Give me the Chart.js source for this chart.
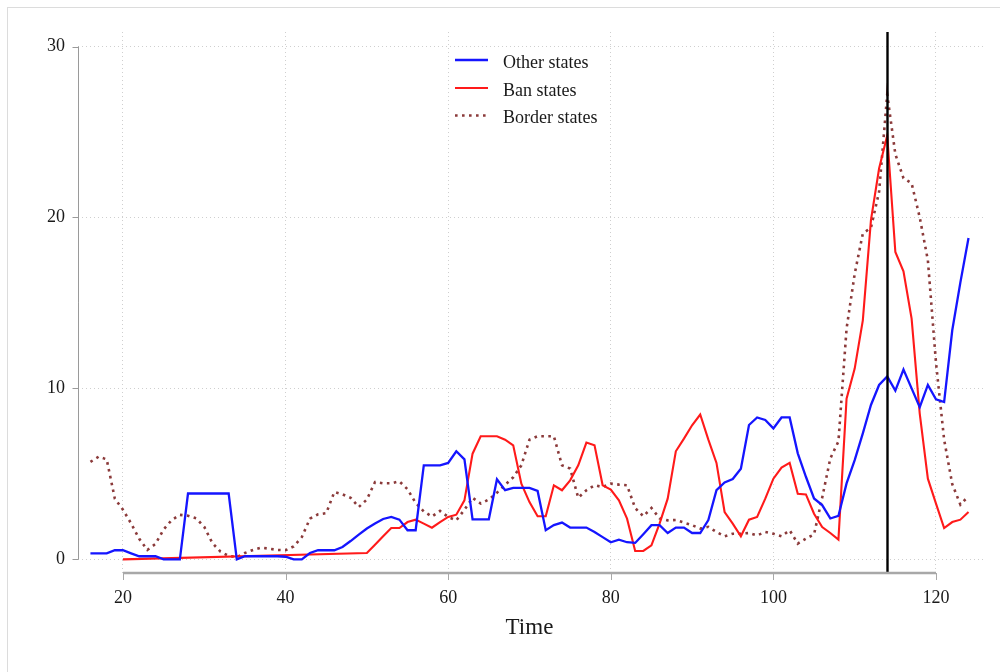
<!DOCTYPE html>
<html>
<head>
<meta charset="utf-8">
<script src="https://cdn.jsdelivr.net/npm/chart.js@4.4.1/dist/chart.umd.min.js"></script>
<style>
  html, body { margin: 0; padding: 0; background: #fff; }
  #wrap { position: relative; width: 1000px; height: 672px; overflow: hidden; }
  #frame { position: absolute; left: 7px; top: 7px; width: 1000px; height: 680px;
           border-top: 1px solid #dcdcdc; border-left: 1px solid #dcdcdc; pointer-events: none; }
  canvas { position: absolute; left: 0; top: 0; }
</style>
</head>
<body>
<div id="wrap">
  <canvas id="c" width="1000" height="672"></canvas>
  <div id="frame"></div>
</div>
<script>
// Time index (16 .. 124)
const FIRST_PERIOD = 16;
const LAST_PERIOD = 124;
const periods = Array.from({ length: LAST_PERIOD - FIRST_PERIOD + 1 }, (_, i) => FIRST_PERIOD + i);

// Other states
const otherStates = [
  0.35, 0.35, 0.35, 0.53, 0.53, 0.35, 0.18, 0.18, 0.18, 0,      // 16-25
  0, 0, 3.85, 3.85, 3.85, 3.85, 3.85, 3.85, 0, 0.18,            // 26-35
  0.18, 0.18, 0.18, 0.18, 0.15, 0, 0, 0.37, 0.53, 0.53,         // 36-45
  0.53, 0.72, 1.07, 1.44, 1.8, 2.09, 2.36, 2.48, 2.32, 1.7,     // 46-55
  1.7, 5.5, 5.5, 5.5, 5.64, 6.32, 5.85, 2.34, 2.34, 2.34,       // 56-65
  4.68, 4.05, 4.18, 4.18, 4.18, 4.0, 1.7, 2.0, 2.15, 1.86,      // 66-75
  1.86, 1.86, 1.6, 1.3, 1.0, 1.15, 1.0, 0.96, 1.47, 2.0,        // 76-85
  2.0, 1.54, 1.86, 1.86, 1.54, 1.54, 2.3, 4.05, 4.5, 4.7,       // 86-95
  5.3, 7.86, 8.3, 8.15, 7.66, 8.3, 8.3, 6.2, 4.83, 3.56,        // 96-105
  3.17, 2.39, 2.54, 4.44, 5.8, 7.37, 9.03, 10.2, 10.7, 9.87,    // 106-115
  11.1, 10.0, 8.9, 10.2, 9.36, 9.2, 13.4, 16.2, 18.8            // 116-124
];

// Ban states (no observations between 20 and 50)
const banStates = [
  null, null, null, null, 0, null, null, null, null, null,      // 16-25
  null, null, null, null, null, null, null, null, null, null,   // 26-35
  null, null, null, null, null, null, null, null, null, null,   // 36-45
  null, null, null, null, 0.37, 0.85, 1.35, 1.83, 1.83, 2.18,   // 46-55
  2.32, 2.09, 1.85, 2.18, 2.48, 2.61, 3.45, 6.18, 7.2, 7.2,     // 56-65
  7.2, 7.0, 6.67, 4.43, 3.35, 2.52, 2.52, 4.33, 4.04, 4.62,     // 66-75
  5.5, 6.83, 6.67, 4.33, 4.08, 3.45, 2.38, 0.49, 0.49, 0.82,    // 76-85
  2.09, 3.55, 6.32, 7.06, 7.84, 8.47, 7.0, 5.64, 2.77, 2.09,    // 86-95
  1.35, 2.32, 2.48, 3.55, 4.72, 5.37, 5.64, 3.84, 3.8, 2.67,    // 96-105
  1.89, 1.54, 1.15, 9.4, 11.16, 13.98, 19.84, 22.86, 24.8, 17.98, // 106-115
  16.85, 14.08, 8.53, 4.72, 3.26, 1.83, 2.18, 2.32, 2.77        // 116-124
];

// Border states
const borderStates = [
  5.7, 6.0, 5.85, 3.55, 2.9, 2.1, 1.2, 0.55, 0.9, 1.75,         // 16-25
  2.3, 2.6, 2.55, 2.4, 1.9, 0.95, 0.45, 0.2, 0.13, 0.37,        // 26-35
  0.55, 0.68, 0.62, 0.55, 0.53, 0.76, 1.3, 2.38, 2.63, 2.7,     // 36-45
  3.94, 3.8, 3.6, 3.06, 3.5, 4.52, 4.45, 4.45, 4.56, 4.1,       // 46-55
  3.3, 2.8, 2.5, 2.83, 2.48, 2.28, 2.9, 3.6, 3.26, 3.5,         // 56-65
  3.9, 4.35, 4.8, 5.5, 7.0, 7.2, 7.2, 7.2, 5.5, 5.31,           // 66-75
  3.6, 4.04, 4.33, 4.23, 4.43, 4.37, 4.33, 3.0, 2.52, 3.0,      // 76-85
  2.4, 2.28, 2.3, 2.15, 2.0, 1.8, 1.9, 1.6, 1.35, 1.5,          // 86-95
  1.5, 1.54, 1.4, 1.6, 1.5, 1.35, 1.7, 0.92, 1.21, 1.46,        // 96-105
  3.6, 5.9, 6.9, 13.5, 16.7, 19.06, 19.4, 21.5, 27.2, 23.7,     // 106-115
  22.3, 22.0, 20.0, 17.5, 11.5, 7.0, 4.4, 3.2, 3.7              // 116-124
];

const xTickValues = [20, 40, 60, 80, 100, 120];
const yTickValues = [0, 10, 20, 30];
const eventPeriod = 114;
const seriesNames = ['Other states', 'Ban states', 'Border states'];
const xTitle = 'Time';

const SERIF = "'Liberation Serif', 'DejaVu Serif', serif";
const toPoints = vals => periods.map((t, i) => ({ x: t, y: vals[i] }));

// Axis lines, tick marks, event marker, legend and axis title
const decorations = {
  id: 'decorations',
  beforeDraw(chart) {
    const ctx = chart.ctx;
    ctx.save();
    ctx.fillStyle = '#ffffff';
    ctx.fillRect(0, 0, chart.width, chart.height);
    ctx.restore();
  },
  afterDatasetsDraw(chart) {
    const { ctx, chartArea, scales } = chart;
    const xs = scales.x;
    const px = Math.round(xs.getPixelForValue(eventPeriod)) + 0.5;
    ctx.save();
    ctx.strokeStyle = '#000000';
    ctx.lineWidth = 2.4;
    ctx.beginPath();
    ctx.moveTo(px, chartArea.top);
    ctx.lineTo(px, chartArea.bottom);
    ctx.stroke();
    ctx.restore();
  },
  afterDraw(chart) {
    const { ctx, chartArea, scales } = chart;
    const xs = scales.x, ys = scales.y;
    ctx.save();

    // x axis: grey line from first to last tick
    const x0 = xs.getPixelForValue(xTickValues[0]);
    const x1 = xs.getPixelForValue(xTickValues[xTickValues.length - 1]);
    const yb = chartArea.bottom;
    ctx.strokeStyle = '#a8a8a8';
    ctx.lineWidth = 2.6;
    ctx.beginPath();
    ctx.moveTo(x0, yb);
    ctx.lineTo(x1, yb);
    ctx.stroke();
    ctx.lineWidth = 1;
    xTickValues.forEach(v => {
      const p = Math.round(xs.getPixelForValue(v)) + 0.5;
      ctx.beginPath();
      ctx.moveTo(p, yb);
      ctx.lineTo(p, yb + 7);
      ctx.stroke();
    });

    // y axis: thin grey line from first to last tick
    const xl = Math.round(chartArea.left) + 0.5;
    ctx.strokeStyle = '#9a9a9a';
    ctx.lineWidth = 1;
    ctx.beginPath();
    ctx.moveTo(xl, ys.getPixelForValue(yTickValues[0]));
    ctx.lineTo(xl, ys.getPixelForValue(yTickValues[yTickValues.length - 1]));
    ctx.stroke();
    yTickValues.forEach(v => {
      const p = Math.round(ys.getPixelForValue(v)) + 0.5;
      ctx.beginPath();
      ctx.moveTo(xl - 6, p);
      ctx.lineTo(xl, p);
      ctx.stroke();
    });

    // axis title
    ctx.fillStyle = '#1a1a1a';
    ctx.font = '23px ' + SERIF;
    ctx.textAlign = 'center';
    ctx.textBaseline = 'alphabetic';
    ctx.fillText(xTitle, (x0 + x1) / 2, 634);

    // legend
    const legendX = 455, legendLen = 33, textX = 503;
    const rowY = [60, 88, 115.5];
    chart.data.datasets.forEach((ds, i) => {
      const y = rowY[i];
      ctx.strokeStyle = ds.borderColor;
      ctx.lineWidth = ds.borderWidth;
      ctx.setLineDash(ds.borderDash || []);
      ctx.lineCap = 'butt';
      ctx.beginPath();
      ctx.moveTo(legendX, y);
      ctx.lineTo(legendX + legendLen, y);
      ctx.stroke();
      ctx.setLineDash([]);
      ctx.fillStyle = '#1a1a1a';
      ctx.font = '18px ' + SERIF;
      ctx.textAlign = 'left';
      ctx.textBaseline = 'alphabetic';
      ctx.fillText(ds.label, textX, y + 7.8);
    });
    ctx.restore();
  }
};

new Chart(document.getElementById('c'), {
  type: 'line',
  data: {
    datasets: [
      { label: seriesNames[0], data: toPoints(otherStates), borderColor: '#1515ff', borderWidth: 2.3,
        pointRadius: 0, tension: 0, fill: false },
      { label: seriesNames[1], data: toPoints(banStates), borderColor: '#ff1a1a', borderWidth: 2.1,
        pointRadius: 0, tension: 0, fill: false, spanGaps: true },
      { label: seriesNames[2], data: toPoints(borderStates), borderColor: '#8b3a3a', borderWidth: 2.6,
        borderDash: [2.6, 4.4], pointRadius: 0, tension: 0, fill: false }
    ]
  },
  options: {
    responsive: false,
    animation: false,
    events: [],
    layout: { padding: { left: 0, top: 32, right: 14, bottom: 0 } },
    plugins: { legend: { display: false }, tooltip: { enabled: false }, title: { display: false } },
    scales: {
      x: {
        type: 'linear',
        min: 14.47,
        max: 126.15,
        afterBuildTicks: axis => { axis.ticks = xTickValues.map(v => ({ value: v })); },
        afterFit: scale => { scale.height = 99; },
        grid: { color: '#cfcfcf', lineWidth: 1, drawTicks: false },
        border: { display: false, dash: [1, 3] },
        ticks: { font: { family: SERIF, size: 18 }, color: '#1a1a1a', padding: 14, maxRotation: 0,
                 autoSkip: false, callback: v => String(v) }
      },
      y: {
        type: 'linear',
        min: -0.8,
        max: 30.85,
        afterBuildTicks: axis => { axis.ticks = yTickValues.map(v => ({ value: v })); },
        afterFit: scale => { scale.width = 78; },
        grid: { color: '#cfcfcf', lineWidth: 1, drawTicks: false },
        border: { display: false, dash: [1, 3] },
        ticks: { font: { family: SERIF, size: 18 }, color: '#1a1a1a', padding: 13,
                 autoSkip: false, callback: v => String(v) }
      }
    }
  },
  plugins: [decorations]
});
</script>
</body>
</html>
